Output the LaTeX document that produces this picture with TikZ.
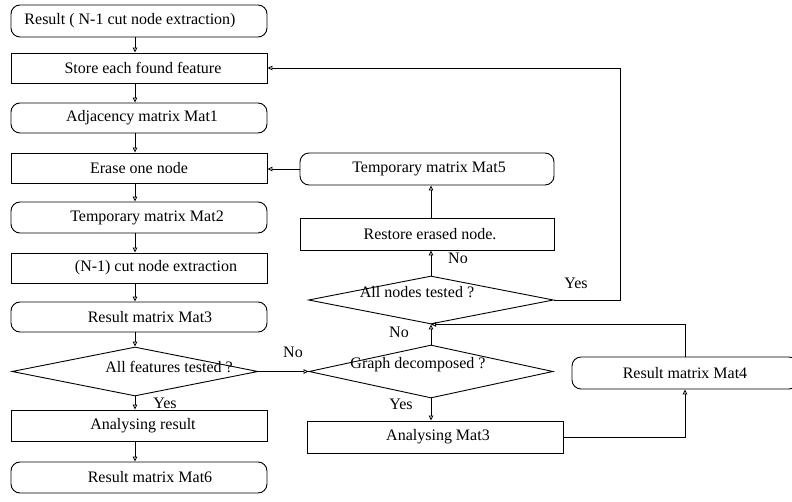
\documentclass[tikz,border=0pt]{standalone}
\usepackage{fontspec}
\setmainfont{Liberation Serif}
\usetikzlibrary{shapes.geometric,arrows.meta}
\newcommand\txtshift[2]{\hspace*{#1}#2\hspace*{-#1}}
\begin{document}
\begin{tikzpicture}[x=1pt,y=-1pt,
  font=\fontsize{16}{19}\selectfont,
  base/.style={draw, line width=0.9pt, minimum height=30pt, inner sep=0pt},
  rbox/.style={base, rounded corners=9pt, minimum width=256pt},
  sbox/.style={base, minimum width=256pt},
  dia/.style={draw, line width=0.9pt, diamond, inner sep=0pt},
  conn/.style={line width=0.8pt, -{Triangle[open,length=5pt,width=4.5pt]}},
  lbl/.style={inner sep=0pt}]
\useasboundingbox (0,0) rectangle (792,502);
\clip (0,0) rectangle (792,502);
% left column
\node[rbox, minimum height=32pt] (r1) at (139,21) {\txtshift{-9pt}{Result ( N-1 cut node extraction)}};
\node[sbox] (store) at (139,68) {\txtshift{4pt}{Store each found feature}};
\node[rbox] (adj) at (139,118) {\txtshift{3pt}{Adjacency matrix Mat1}};
\node[sbox] (erase) at (139,168) {Erase one node};
\node[rbox, minimum height=31pt] (mat2) at (139,217.5) {\txtshift{8pt}{Temporary matrix Mat2}};
\node[sbox] (cut) at (139,268) {\txtshift{17pt}{(N-1) cut node extraction}};
\node[rbox] (mat3) at (139,317) {\txtshift{11pt}{Result matrix Mat3}};
\node[dia, minimum width=246pt, minimum height=49pt] (d1) at (135,371.5) {};
\node[lbl] (d1t) at (169,367) {All features tested ?};
\node[sbox, minimum height=31pt] (anres) at (139,425.5) {\txtshift{4pt}{Analysing result}};
\node[rbox, minimum height=31pt] (mat6) at (139,477.5) {\txtshift{11pt}{Result matrix Mat6}};
% right column
\node[rbox, minimum width=254pt, minimum height=32pt] (mat5) at (427,169) {\txtshift{2pt}{Temporary matrix Mat5}};
\node[sbox, minimum width=254pt, minimum height=32pt] (rest) at (427,234) {\txtshift{3pt}{Restore erased node.}};
\node[dia, minimum width=245pt, minimum height=48pt] (d2) at (431,300) {};
\node[lbl] (d2t) at (417,292) {All nodes tested ?};
\node[dia, minimum width=244pt, minimum height=53pt] (d3) at (431,371.5) {};
\node[lbl] (d3t) at (418,365) {Graph decomposed ?};
\node[sbox, minimum height=32pt] (anm3) at (435,437) {\txtshift{3pt}{Analysing Mat3}};
\node[rbox, minimum width=226pt, minimum height=32pt] (mat4) at (685,373) {Result matrix Mat4};
\coordinate (rt) at (620,0);
% connectors left
\draw[conn] (r1.south -| d1.north) -- (store.north -| d1.north);
\draw[conn] (store.south -| d1.north) -- (adj.north -| d1.north);
\draw[conn] (adj.south -| d1.north) -- (erase.north -| d1.north);
\draw[conn] (erase.south -| d1.north) -- (mat2.north -| d1.north);
\draw[conn] (mat2.south -| d1.north) -- (cut.north -| d1.north);
\draw[conn] (cut.south -| d1.north) -- (mat3.north -| d1.north);
\draw[conn] (mat3.south -| d1.north) -- (d1.north);
\draw[conn] (d1.south) -- (anres.north -| d1.south);
\draw[conn] (anres.south -| d1.south) -- (mat6.north -| d1.south);
% connectors right
\draw[conn] (d1.east) -- (d3.west);
\draw[conn] (d3.south) -- (d3.south |- anm3.north);
\draw[conn] (d3.north) -- (d2.south);
\draw[conn] (anm3.east) -| (mat4.south);
\draw[conn] (mat4.north) |- (d2.south);
\draw[conn] (d2.north) -- (d2.north |- rest.south);
\draw[conn] (rest.north -| d2.north) -- (mat5.south -| d2.north);
\draw[conn] (mat5.west) -- (erase.east |- mat5.west);
\draw[conn] (d2.east) -- (d2.east -| rt) |- (store.east);
% labels
\node[lbl] (no1) at (293,352) {No};
\node[lbl] (yes1) at (165,403) {Yes};
\node[lbl] (no2) at (399,332) {No};
\node[lbl] (yes2) at (401,404) {Yes};
\node[lbl] (no3) at (458,258) {No};
\node[lbl] (yes3) at (576,283) {Yes};
\end{tikzpicture}
\end{document}
